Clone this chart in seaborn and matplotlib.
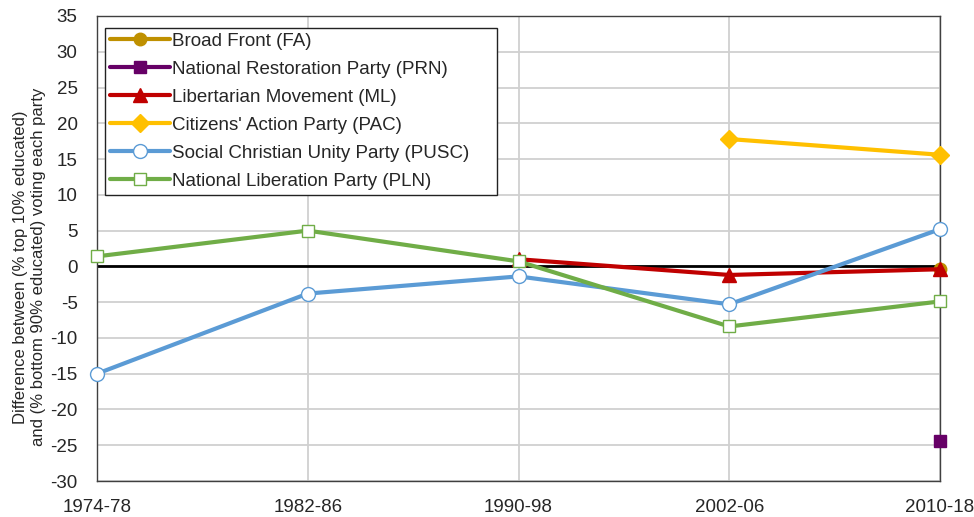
import numpy as np
import pandas as pd
import matplotlib
matplotlib.use('Agg')
import matplotlib.pyplot as plt
import seaborn as sns

# data (NaN = party not present in that period)
periods = ['1974-78', '1982-86', '1990-98', '2002-06', '2010-18']
fa = [np.nan, np.nan, np.nan, np.nan, -0.3]
prn = [np.nan, np.nan, np.nan, np.nan, -24.4]
ml = [np.nan, np.nan, 1.0, -1.2, -0.4]
pac = [np.nan, np.nan, np.nan, 17.8, 15.6]
pusc = [-15.0, -3.8, -1.4, -5.3, 5.2]
pln = [1.4, 5.0, 0.7, -8.4, -4.9]

labels = ['Broad Front (FA)', 'National Restoration Party (PRN)',
          'Libertarian Movement (ML)', "Citizens' Action Party (PAC)",
          'Social Christian Unity Party (PUSC)', 'National Liberation Party (PLN)']
series = [fa, prn, ml, pac, pusc, pln]
colors = ['#BF9000', '#660066', '#C00000', '#FFC000', '#5B9BD5', '#70AD47']
markers = ['o', 's', '^', 'D', 'o', 's']
msizes = [9, 9, 10, 9, 10, 9]
faces = ['#BF9000', '#660066', '#C00000', '#FFC000', 'white', 'white']

sns.set_style('white')
plt.rcParams['font.family'] = ['Liberation Sans', 'DejaVu Sans']
plt.rcParams['axes.unicode_minus'] = False

fig = plt.figure(figsize=(9.74, 5.17), dpi=100)
ax = fig.add_axes([0.0996, 0.0696, 0.8655, 0.8995])

x = np.arange(len(periods))
ax.axhline(0, color='black', lw=2, zorder=1.5)

for lab, vals, c, m, ms, fc in zip(labels, series, colors, markers, msizes, faces):
    df = pd.DataFrame({'x': x, 'y': vals}).dropna()
    sns.lineplot(data=df, x='x', y='y', ax=ax, color=c, lw=3, marker=m,
                 markersize=ms, markerfacecolor=fc, markeredgecolor=c,
                 markeredgewidth=1, label=lab, clip_on=False, zorder=3)

ax.set_xlim(0, 4)
ax.set_ylim(-30, 35)
ax.set_xticks(x)
ax.set_xticklabels(periods)
ax.set_yticks(np.arange(-30, 36, 5))
ax.tick_params(axis='both', length=0, labelsize=13.5)
ax.tick_params(axis='y', pad=14)
ax.tick_params(axis='x', pad=13)
ax.grid(True, color='#D0D0D0', lw=1.3)
ax.set_axisbelow(True)
for s in ax.spines.values():
    s.set_color('#404040')
    s.set_linewidth(1)

ax.set_xlabel('')
ax.set_ylabel('Difference between (% top 10% educated)\nand (% bottom 90% educated) voting each party',
              fontsize=12)
ax.yaxis.set_label_coords(-0.061, 0.46)

leg = ax.legend(loc='upper left', bbox_to_anchor=(0.0095, 0.0, 0.465, 0.974),
                mode='expand', borderaxespad=0,
                fontsize=13.5, frameon=True, fancybox=False, edgecolor='#222222',
                handlelength=3.2, handletextpad=0.1, labelspacing=0.58,
                borderpad=0.25, framealpha=1)
leg.get_frame().set_linewidth(1)
leg.set_zorder(5)

fig.savefig('out.png', dpi=100)
